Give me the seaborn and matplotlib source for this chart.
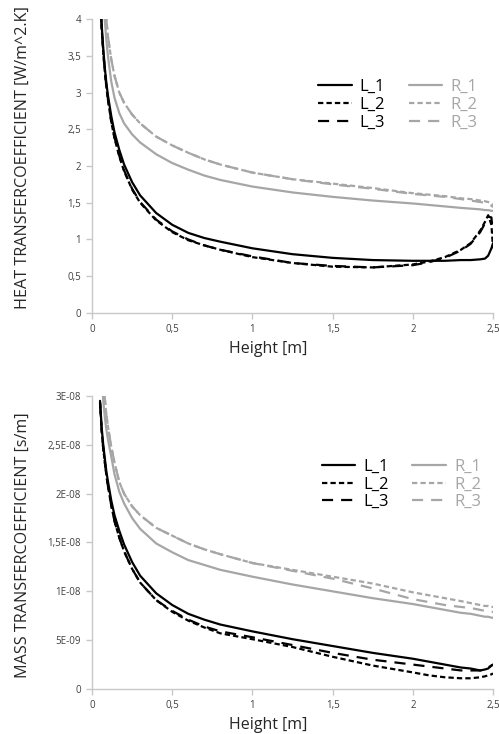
import numpy as np
import pandas as pd
import matplotlib
matplotlib.use("Agg")
import matplotlib.pyplot as plt
import seaborn as sns
from matplotlib.ticker import FuncFormatter, MultipleLocator

# Height positions shared by all curves [m]
height = [0.05, 0.06, 0.07, 0.08, 0.09, 0.1, 0.12, 0.14, 0.17, 0.2, 0.25, 0.3, 0.4, 0.5,
          0.6, 0.7, 0.8, 1.0, 1.25, 1.5, 1.75, 2.0, 2.1, 2.2, 2.3, 2.36, 2.42, 2.45, 2.47,
          2.49, 2.5]

# Heat transfer coefficient [W/m^2.K]
heat_L1 = [4.4, 3.93, 3.6, 3.33, 3.12, 2.95, 2.68, 2.46, 2.22, 2.02, 1.78, 1.6, 1.36, 1.2,
           1.09, 1.02, 0.97, 0.88, 0.8, 0.75, 0.72, 0.71, 0.71, 0.71, 0.72, 0.72, 0.73, 0.74,
           0.78, 0.88, 0.95]
heat_L2 = [4.35, 3.88, 3.55, 3.28, 3.06, 2.89, 2.6, 2.38, 2.13, 1.93, 1.68, 1.5, 1.26, 1.1,
           0.99, 0.92, 0.86, 0.76, 0.68, 0.63, 0.62, 0.66, 0.7, 0.76, 0.86, 0.95, 1.12, 1.24,
           1.33, 1.2, 0.88]
heat_L3 = [4.36, 3.89, 3.56, 3.29, 3.07, 2.9, 2.61, 2.39, 2.14, 1.94, 1.69, 1.51, 1.27, 1.11,
           1.0, 0.92, 0.86, 0.77, 0.68, 0.64, 0.62, 0.65, 0.69, 0.75, 0.85, 0.94, 1.1, 1.22,
           1.31, 1.3, 1.08]
heat_R1 = [5.8, 5.0, 4.4, 3.97, 3.7, 3.48, 3.15, 2.93, 2.72, 2.58, 2.43, 2.32, 2.16, 2.04,
           1.95, 1.87, 1.81, 1.72, 1.64, 1.58, 1.53, 1.49, 1.47, 1.45, 1.43, 1.42, 1.41, 1.4,
           1.4, 1.39, 1.39]
heat_R2 = [6.5, 5.6, 4.9, 4.4, 3.98, 3.75, 3.45, 3.23, 3.0, 2.86, 2.7, 2.58, 2.4, 2.28,
           2.18, 2.09, 2.02, 1.91, 1.82, 1.76, 1.7, 1.63, 1.61, 1.59, 1.56, 1.55, 1.53, 1.52,
           1.51, 1.49, 1.47]
heat_R3 = [6.5, 5.6, 4.9, 4.4, 3.98, 3.75, 3.45, 3.23, 3.0, 2.86, 2.7, 2.58, 2.4, 2.28,
           2.18, 2.09, 2.02, 1.91, 1.82, 1.75, 1.69, 1.62, 1.6, 1.58, 1.55, 1.53, 1.51, 1.5,
           1.48, 1.46, 1.44]

# Mass transfer coefficient [1E-08 s/m]
mass_L1 = [2.95, 2.68, 2.5, 2.36, 2.22, 2.12, 1.93, 1.78, 1.62, 1.48, 1.3, 1.16, 0.98, 0.86,
           0.77, 0.71, 0.66, 0.59, 0.51, 0.44, 0.37, 0.31, 0.28, 0.25, 0.22, 0.21, 0.19, 0.2,
           0.21, 0.24, 0.25]
mass_L2 = [2.93, 2.65, 2.46, 2.32, 2.18, 2.07, 1.88, 1.72, 1.55, 1.41, 1.23, 1.09, 0.91, 0.79,
           0.7, 0.63, 0.57, 0.51, 0.43, 0.33, 0.24, 0.17, 0.14, 0.12, 0.11, 0.11, 0.12, 0.13,
           0.14, 0.15, 0.16]
mass_L3 = [2.93, 2.65, 2.46, 2.32, 2.18, 2.07, 1.88, 1.72, 1.55, 1.41, 1.23, 1.09, 0.91, 0.8,
           0.71, 0.64, 0.59, 0.53, 0.45, 0.37, 0.3, 0.25, 0.23, 0.21, 0.19, 0.19, 0.19, 0.2,
           0.22, 0.24, 0.25]
mass_R1 = [3.6, 3.25, 2.95, 2.78, 2.65, 2.55, 2.38, 2.2, 2.02, 1.9, 1.75, 1.64, 1.49, 1.4,
           1.32, 1.27, 1.22, 1.15, 1.07, 1.0, 0.93, 0.87, 0.84, 0.81, 0.78, 0.77, 0.75, 0.74,
           0.74, 0.73, 0.73]
mass_R2 = [4.0, 3.6, 3.25, 2.97, 2.8, 2.68, 2.48, 2.32, 2.12, 2.0, 1.87, 1.78, 1.65, 1.57,
           1.49, 1.43, 1.38, 1.29, 1.22, 1.15, 1.08, 0.99, 0.96, 0.93, 0.9, 0.88, 0.86, 0.85,
           0.85, 0.84, 0.84]
mass_R3 = [4.0, 3.6, 3.25, 2.97, 2.8, 2.68, 2.48, 2.32, 2.12, 2.0, 1.87, 1.78, 1.65, 1.57,
           1.49, 1.43, 1.38, 1.29, 1.21, 1.13, 1.03, 0.92, 0.89, 0.86, 0.84, 0.83, 0.81, 0.8,
           0.8, 0.79, 0.79]

x_ticks = [0, 0.5, 1, 1.5, 2, 2.5]

BLACK = "#000000"
GREY = "#a6a6a6"
AXIS_GREY = "#c8c8c8"
short_dash = (0, (2.4, 1.4))
long_dash = (0, (5.0, 3.6))

sns.set_style("white")
plt.rcParams["font.family"] = ["Open Sans", "DejaVu Sans"]

fig = plt.figure(figsize=(4.99, 7.34), dpi=100)
ax1 = fig.add_axes([0.1844, 0.5736, 0.8036, 0.4005])
ax2 = fig.add_axes([0.1844, 0.0613, 0.8036, 0.3992])


def comma(v, pos):
    s = f"{v:g}"
    return s.replace(".", ",")


def sci_comma(v, pos):
    if v == 0:
        return "0"
    s = f"{v:.1E}"
    mant, exp = s.split("E")
    mant = mant.rstrip("0").rstrip(".").replace(".", ",")
    return f"{mant}E{exp[0]}{int(exp[1:]):02d}"


def draw(ax, series, scale):
    styles = [("L_1", BLACK, "-"), ("L_2", BLACK, short_dash), ("L_3", BLACK, long_dash),
              ("R_1", GREY, "-"), ("R_2", GREY, short_dash), ("R_3", GREY, long_dash)]
    for (name, color, ls), vals in zip(styles, series):
        df = pd.DataFrame({"height": height, "value": np.array(vals) * scale})
        sns.lineplot(data=df, x="height", y="value", ax=ax, color=color, linestyle=ls,
                     linewidth=1.6, label=name)
    ax.set_xlim(0, 2.5)
    ax.set_xticks(x_ticks)
    ax.xaxis.set_major_formatter(FuncFormatter(comma))
    for side in ["top", "right"]:
        ax.spines[side].set_visible(False)
    for side in ["left", "bottom"]:
        ax.spines[side].set_color(AXIS_GREY)
        ax.spines[side].set_linewidth(1.0)
    ax.tick_params(axis="both", which="major", length=4, width=1.0, color=AXIS_GREY,
                   labelsize=7, labelcolor="#404040", pad=4, direction="out",
                   left=True, bottom=True)
    ax.set_xlabel("Height [m]", fontsize=11.5, color="#262626")
    ax.xaxis.set_label_coords(0.44, -0.095)
    ax.xaxis.label.set_va("top")
    leg = ax.legend(ncol=2, frameon=False, fontsize=12, handlelength=2.0,
                    handletextpad=0.5, columnspacing=1.4, labelspacing=0.1,
                    borderpad=0, borderaxespad=0, loc="upper left")
    for txt, (name, color, ls) in zip(leg.get_texts(), styles):
        txt.set_color(color)
    return leg


leg1 = draw(ax1, [heat_L1, heat_L2, heat_L3, heat_R1, heat_R2, heat_R3], 1.0)
ax1.set_ylim(0, 4)
ax1.yaxis.set_major_locator(MultipleLocator(0.5))
ax1.yaxis.set_major_formatter(FuncFormatter(comma))
ax1.set_ylabel("HEAT TRANSFERCOEFFICIENT [W/m^2.K]", fontsize=11.6, color="#262626")
ax1.yaxis.set_label_coords(-0.152, 0.53)
leg1.set_bbox_to_anchor((0.564, 0.795), transform=ax1.transAxes)

leg2 = draw(ax2, [mass_L1, mass_L2, mass_L3, mass_R1, mass_R2, mass_R3], 1e-8)
ax2.set_ylim(0, 3e-8)
ax2.yaxis.set_major_locator(MultipleLocator(0.5e-8))
ax2.yaxis.set_major_formatter(FuncFormatter(sci_comma))
ax2.yaxis.get_offset_text().set_visible(False)
ax2.set_ylabel("MASS TRANSFERCOEFFICIENT [s/m]", fontsize=11.6, color="#262626")
ax2.yaxis.set_label_coords(-0.152, 0.49)
leg2.set_bbox_to_anchor((0.573, 0.785), transform=ax2.transAxes)

fig.savefig("out.png", dpi=100)
